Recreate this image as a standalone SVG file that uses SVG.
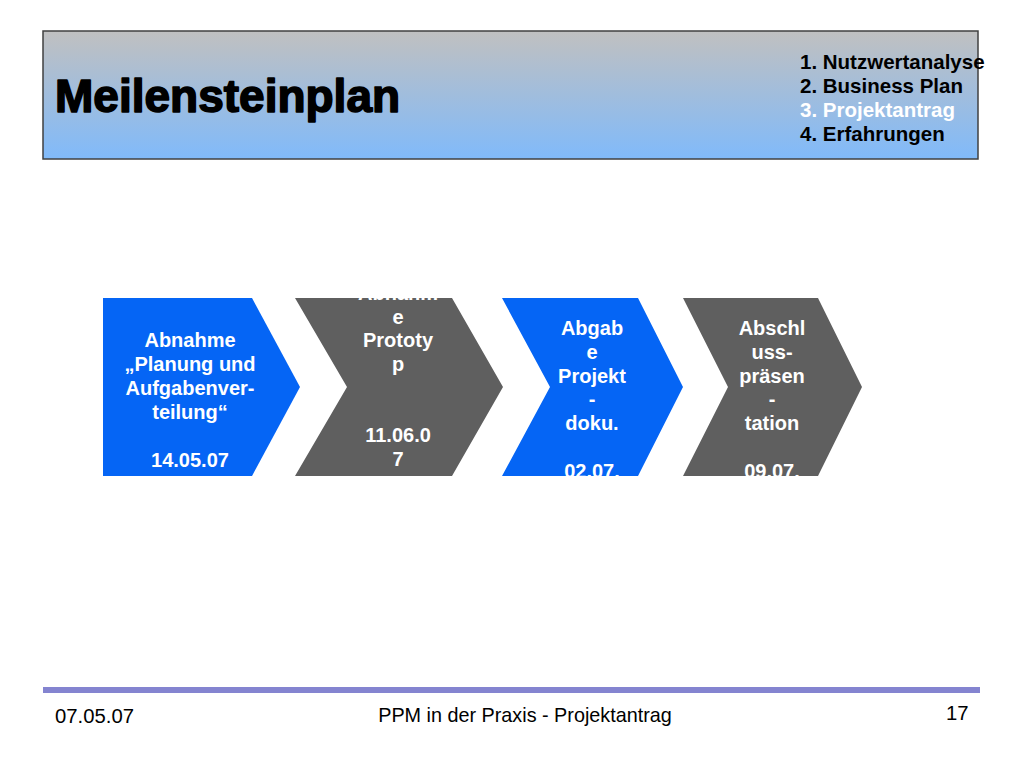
<svg xmlns="http://www.w3.org/2000/svg" width="1024" height="768" viewBox="0 0 1024 768">
<defs>
<linearGradient id="hdr" x1="0" y1="0" x2="0" y2="1">
<stop offset="0" stop-color="#c0c0c0"/>
<stop offset="1" stop-color="#80bafa"/>
</linearGradient>
<clipPath id="band"><rect x="90" y="298" width="800" height="178"/></clipPath>
<style>
text{font-family:"Liberation Sans",Arial,sans-serif;}
.menu{font-size:20.5px;font-weight:bold;fill:#000;}
.ct{font-size:20px;font-weight:bold;fill:#fff;text-anchor:middle;}
.blue{fill:#0565f5;}
.gray{fill:#5f5f5f;}
.foot{font-size:20.3px;fill:#000;}
</style>
</defs>
<rect width="1024" height="768" fill="#fff"/>
<g id="header">
<rect x="43" y="31" width="935" height="128" fill="url(#hdr)" stroke="#404040" stroke-width="1.5"/>
<text x="55" y="112" style="font-size:46px;font-weight:bold;fill:#000;stroke:#000;stroke-width:1.6;stroke-linejoin:round">Meilensteinplan</text>
<text class="menu" x="800" y="69">1. Nutzwertanalyse</text>
<text class="menu" x="800" y="93">2. Business Plan</text>
<text class="menu" x="800" y="117" style="fill:#fff">3. Projektantrag</text>
<text class="menu" x="800" y="141">4. Erfahrungen</text>
</g>
<g id="milestone1">
<path class="blue" d="M103,298 L252,298 L300,387 L252,476 L103,476 Z"/>
<g clip-path="url(#band)">
<text class="ct" x="190" y="347">Abnahme</text>
<text class="ct" x="190" y="371">„Planung und</text>
<text class="ct" x="190" y="395">Aufgabenver-</text>
<text class="ct" x="190" y="419">teilung“</text>
<text class="ct" x="190" y="467">14.05.07</text>
</g>
</g>
<g id="milestone2">
<path class="gray" d="M295,298 L452,298 L503,387 L452,476 L295,476 L347,387 Z"/>
<g clip-path="url(#band)">
<text class="ct" x="398" y="300">Abnahm</text>
<text class="ct" x="398" y="324">e</text>
<text class="ct" x="398" y="347">Prototy</text>
<text class="ct" x="398" y="371">p</text>
<text class="ct" x="398" y="442">11.06.0</text>
<text class="ct" x="398" y="466">7</text>
</g>
</g>
<g id="milestone3">
<path class="blue" d="M502,298 L638,298 L683,387 L638,476 L502,476 L550,387 Z"/>
<g clip-path="url(#band)">
<text class="ct" x="592" y="335">Abgab</text>
<text class="ct" x="592" y="359">e</text>
<text class="ct" x="592" y="383">Projekt</text>
<text class="ct" x="592" y="406">-</text>
<text class="ct" x="592" y="430">doku.</text>
<text class="ct" x="592" y="478">02.07.</text>
</g>
</g>
<g id="milestone4">
<path class="gray" d="M683,298 L818,298 L862,387 L818,476 L683,476 L728,387 Z"/>
<g clip-path="url(#band)">
<text class="ct" x="772" y="335">Abschl</text>
<text class="ct" x="772" y="359">uss-</text>
<text class="ct" x="772" y="383">präsen</text>
<text class="ct" x="772" y="406">-</text>
<text class="ct" x="772" y="430">tation</text>
<text class="ct" x="772" y="478">09.07.</text>
</g>
</g>
<g id="connectors"></g>
<g id="footer">
<rect x="43" y="687" width="937" height="6" fill="#8484d0"/>
<text class="foot" x="55" y="723">07.05.07</text>
<text class="foot" x="525" y="722" text-anchor="middle" style="font-size:19.8px">PPM in der Praxis - Projektantrag</text>
<text class="foot" x="946" y="720">17</text>
</g>
</svg>
